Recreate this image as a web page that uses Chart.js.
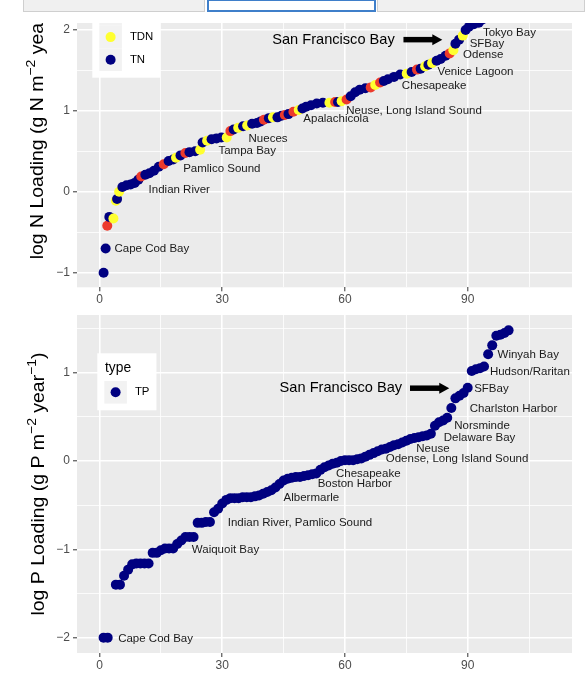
<!DOCTYPE html>
<html lang="en">
<head>
<meta charset="UTF-8">
<title>log N and P Loading</title>
<style>
  html, body { margin: 0; padding: 0; background: #fff; }
  body { width: 587px; height: 680px; position: relative; overflow: hidden; }
  .tab { position: absolute; top: -1px; height: 13px; box-sizing: border-box; }
  #tab1 { left: 23px; width: 182px; background: #f0f0f0; border: 1px solid #cfcfcf; }
  #tab2 { left: 207px; width: 169px; background: #fff; border: 2px solid #3f7fca; }
  #tab3 { left: 377px; width: 208px; background: #f0f0f0; border: 1px solid #cfcfcf; }
  #topWrap { position: absolute; left: 0; top: 23px; width: 587px; height: 287px; overflow: hidden; }
  #nChart { position: absolute; left: 0; top: -57px; }
  #pChart { position: absolute; left: 0; top: 315px; }
</style>
</head>
<body>
<div class="tab" id="tab1"></div>
<div class="tab" id="tab2"></div>
<div class="tab" id="tab3"></div>
<div id="topWrap"><canvas id="nChart" width="587" height="344"></canvas></div>
<canvas id="pChart" width="587" height="365"></canvas>

<script src="https://cdn.jsdelivr.net/npm/chart.js"></script>
<script>
// ---- N loading (rank, log value, type) ----
const nX = [1.0, 1.5, 1.9, 2.4, 3.4, 4.0, 4.3, 4.8, 5.6, 6.6, 7.6, 8.6, 9.5, 10.2, 11.2, 12.2, 13.3, 14.5, 15.7, 16.9,
  18.0, 18.7, 19.8, 21.0, 22.0, 23.4, 24.6, 25.2, 26.3, 27.4, 28.6, 29.8, 31.1, 32.0, 32.8, 33.9, 35.1, 36.1, 37.3, 38.5,
  39.4, 40.2, 41.4, 42.4, 43.5, 44.5, 45.3, 46.2, 47.4, 48.7, 49.6, 50.5, 51.7, 53.1, 54.6, 56.2, 57.6, 58.3, 59.2, 60.4,
  61.4, 62.5, 63.6, 65.0, 66.3, 67.4, 68.6, 69.5, 70.5, 72.0, 73.5, 75.1, 76.3, 77.6, 78.5, 79.6, 80.4, 81.3, 82.4, 83.4,
  84.6, 85.6, 86.5, 87.0, 87.9, 88.8, 89.5, 90.3, 91.5, 92.7, 93.6];
const nY = [-1.00, -0.70, -0.42, -0.31, -0.33, -0.11, -0.09, 0.00, 0.06, 0.08, 0.09, 0.11, 0.15, 0.19, 0.21, 0.23, 0.26, 0.31, 0.34, 0.38,
  0.40, 0.42, 0.45, 0.48, 0.49, 0.50, 0.52, 0.61, 0.63, 0.65, 0.66, 0.67, 0.67, 0.75, 0.77, 0.79, 0.81, 0.82, 0.84, 0.85,
  0.87, 0.89, 0.91, 0.92, 0.92, 0.94, 0.95, 0.96, 0.99, 1.01, 1.03, 1.05, 1.07, 1.09, 1.10, 1.10, 1.11, 1.11, 1.12, 1.14,
  1.18, 1.23, 1.26, 1.28, 1.29, 1.32, 1.35, 1.37, 1.39, 1.42, 1.45, 1.46, 1.48, 1.51, 1.52, 1.55, 1.57, 1.59, 1.62, 1.64,
  1.68, 1.71, 1.75, 1.83, 1.88, 1.93, 2.00, 2.04, 2.07, 2.09, 2.13];
const nType = ['TN', 'TN', 'DIN', 'TN', 'TDN', 'TDN', 'TN', 'TDN', 'TN', 'TN', 'TN', 'TN', 'TN', 'DIN', 'TN', 'TN', 'TN', 'TN', 'DIN', 'TN',
  'TN', 'TDN', 'TN', 'DIN', 'TN', 'TN', 'TDN', 'TN', 'TDN', 'TN', 'TN', 'TN', 'TDN', 'DIN', 'TN', 'TDN', 'TN', 'TDN', 'TN', 'TN',
  'TN', 'DIN', 'TN', 'TDN', 'TN', 'TN', 'DIN', 'TN', 'DIN', 'TDN', 'TN', 'TN', 'TN', 'TN', 'TN', 'TDN', 'DIN', 'TN', 'TDN', 'DIN',
  'TN', 'TN', 'TN', 'TN', 'DIN', 'TDN', 'DIN', 'TN', 'TN', 'TN', 'TN', 'TDN', 'TN', 'DIN', 'TN', 'TDN', 'TN', 'TDN', 'TN', 'TN',
  'TN', 'DIN', 'TDN', 'TN', 'TN', 'TDN', 'TN', 'TN', 'TN', 'TN', 'TN'];

// ---- P loading ----
const pX = [1, 2, 4, 5, 6, 7, 8, 9, 10, 11, 12, 13, 14, 15, 16, 17, 18, 19, 20, 21, 22, 23, 24, 25, 26, 27, 28, 29, 30,
  31, 32, 33, 34, 35, 36, 37, 38, 39, 40, 41, 42, 43, 44, 45, 46, 47, 48, 49, 50, 51, 52, 53, 54, 55, 56, 57, 58, 59, 60,
  61, 62, 63, 64, 65, 66, 67, 68, 69, 70, 71, 72, 73, 74, 75, 76, 77, 78, 79, 80, 81, 82, 83, 84, 85, 86, 87, 88, 89, 90,
  91, 92, 93, 94, 95, 96, 97, 98, 99, 100];
const pY = [-2.00, -2.00, -1.40, -1.40, -1.30, -1.23, -1.17, -1.16, -1.16, -1.16, -1.16, -1.04, -1.04, -1.01, -0.99, -0.99, -0.99, -0.94, -0.90, -0.86, -0.86, -0.86, -0.70, -0.70, -0.69, -0.69, -0.58, -0.54, -0.48,
  -0.44, -0.42, -0.42, -0.42, -0.41, -0.41, -0.41, -0.40, -0.39, -0.37, -0.35, -0.33, -0.30, -0.26, -0.22, -0.20, -0.19, -0.18, -0.18, -0.17, -0.16, -0.15, -0.14, -0.10, -0.07, -0.05, -0.03, -0.02, 0.00, 0.01,
  0.01, 0.01, 0.02, 0.03, 0.05, 0.07, 0.09, 0.11, 0.13, 0.14, 0.16, 0.18, 0.19, 0.21, 0.23, 0.25, 0.26, 0.27, 0.28, 0.29, 0.31, 0.40, 0.44, 0.46, 0.49, 0.60, 0.71, 0.74, 0.77, 0.83,
  1.02, 1.04, 1.05, 1.07, 1.21, 1.31, 1.42, 1.43, 1.45, 1.48];

// ---- axes ----
const xMajor = [0, 30, 60, 90];
const xMinor = [15, 45, 75, 105];
const nMajor = [-1, 0, 1, 2];
const nMinor = [-0.5, 0.5, 1.5, 2.5];
const pMajor = [-2, -1, 0, 1];
const pMinor = [-1.5, -0.5, 0.5, 1.5];

// ---- site labels (centre of text, data units) ----
const nNames = ['Cape Cod Bay', 'Indian River', 'Pamlico Sound', 'Tampa Bay', 'Nueces', 'Apalachicola',
  'Neuse, Long Island Sound', 'Chesapeake', 'Venice Lagoon', 'Odense', 'SFBay', 'Tokyo Bay'];
const nNameX = [12.8, 19.5, 29.9, 36.1, 41.2, 57.8, 76.9, 81.8, 91.9, 93.8, 94.7, 100.2];
const nNameY = [-0.70, 0.03, 0.28, 0.51, 0.66, 0.90, 1.00, 1.31, 1.48, 1.69, 1.83, 1.96];

const pNames = ['Cape Cod Bay', 'Waiquoit Bay', 'Indian River, Pamlico Sound', 'Albermarle', 'Boston Harbor', 'Chesapeake',
  'Odense, Long Island Sound', 'Neuse', 'Delaware Bay', 'Norsminde', 'Charlston Harbor', 'SFBay', 'Hudson/Raritan', 'Winyah Bay'];
const pNameX = [13.7, 30.8, 49.0, 51.8, 62.4, 65.7, 87.4, 81.5, 92.9, 93.5, 101.2, 95.8, 105.2, 104.8];
const pNameY = [-2.01, -1.00, -0.70, -0.42, -0.255, -0.147, 0.03, 0.14, 0.26, 0.40, 0.59, 0.82, 1.01, 1.20];

const typeColor = { DIN: '#EC3A2C', TDN: '#FFFF30', TN: '#000080', TP: '#000080' };
const FONT = '"Liberation Sans", Arial, Helvetica, sans-serif';

Chart.defaults.font.family = FONT;

const near = (list, v) => list.some(m => Math.abs(m - v) < 1e-9);
const fmt = v => (v < 0 ? '\u2212' + Math.abs(v) : String(v));

function makeScale(min, max, major, minor, pos, size, pad) {
  const all = major.concat(minor).sort((a, b) => a - b);
  return {
    type: 'linear', position: pos, min: min, max: max,
    afterBuildTicks: s => { s.ticks = all.map(v => ({ value: v })); },
    afterFit: s => {
      // exact panel size, no label overhang padding
      if (pos === 'left') { s.width = size; s.paddingTop = 0; s.paddingBottom = 0; }
      else { s.height = size; s.paddingLeft = 0; s.paddingRight = 0; }
    },
    grid: {
      color: '#FFFFFF',
      lineWidth: c => (c.tick && near(major, c.tick.value)) ? 1.6 : 0.8,
      tickColor: c => (c.tick && near(major, c.tick.value)) ? '#333333' : 'rgba(0,0,0,0)',
      tickLength: 4, tickWidth: 1
    },
    border: { display: false },
    ticks: {
      autoSkip: false, maxRotation: 0, padding: pad,
      color: '#4D4D4D', font: { size: 12 },
      callback: v => near(major, v) ? fmt(v) : ''
    }
  };
}

// grey panel behind the grid
const panelBg = {
  id: 'panelBg',
  beforeDraw(chart) {
    const { ctx, chartArea: a } = chart;
    ctx.save();
    ctx.fillStyle = '#EBEBEB';
    ctx.fillRect(a.left, a.top, a.right - a.left, a.bottom - a.top);
    ctx.restore();
  }
};

// labels, big label and arrow
const ggNotes = {
  id: 'ggNotes',
  afterDatasetsDraw(chart, args, o) {
    const { ctx, scales: { x, y } } = chart;
    ctx.save();
    ctx.textAlign = 'center';
    ctx.textBaseline = 'middle';
    ctx.fillStyle = '#1a1a1a';
    ctx.font = '11.5px ' + FONT;
    o.names.forEach((t, i) => ctx.fillText(t, x.getPixelForValue(o.xs[i]), y.getPixelForValue(o.ys[i])));

    ctx.fillStyle = '#000';
    ctx.font = '14.6px ' + FONT;
    ctx.fillText(o.big, x.getPixelForValue(o.bigX), y.getPixelForValue(o.bigY));

    const x1 = x.getPixelForValue(o.arrow[0]);
    const x2 = x.getPixelForValue(o.arrow[1]);
    const ay = y.getPixelForValue(o.arrow[2]);
    ctx.strokeStyle = '#000';
    ctx.lineWidth = 5.5;
    ctx.beginPath();
    ctx.moveTo(x1, ay);
    ctx.lineTo(x2 - 8, ay);
    ctx.stroke();
    ctx.beginPath();
    ctx.moveTo(x2, ay);
    ctx.lineTo(x2 - 10, ay - 5.5);
    ctx.lineTo(x2 - 10, ay + 5.5);
    ctx.closePath();
    ctx.fill();
    ctx.restore();
  }
};

// ggplot style legend inside the panel
const ggLegend = {
  id: 'ggLegend',
  afterDraw(chart, args, o) {
    const { ctx, chartArea: a } = chart;
    const left = a.left + o.dx, top = a.top + o.dy;
    const key = 22.6, pad = 7;
    ctx.save();
    ctx.font = '11.4px ' + FONT;
    const labW = Math.max(...o.items.map(it => ctx.measureText(it).width));
    const w = pad + key + 8 + labW + pad;
    const h = 27.7 + key * o.items.length + 6.7;
    ctx.fillStyle = '#fff';
    ctx.fillRect(left, top, w, h);
    ctx.textBaseline = 'middle';
    ctx.fillStyle = '#000';
    ctx.font = '13.8px ' + FONT;
    ctx.fillText(o.title, left + 7.7, top + 15);
    o.items.forEach((it, i) => {
      const ky = top + 27.7 + i * key;
      ctx.fillStyle = '#F2F2F2';
      ctx.fillRect(left + pad, ky, key, key);
      ctx.fillStyle = typeColor[it];
      ctx.beginPath();
      ctx.arc(left + pad + key / 2, ky + key / 2, 5, 0, Math.PI * 2);
      ctx.fill();
      ctx.fillStyle = '#000';
      ctx.font = '11.4px ' + FONT;
      ctx.fillText(it, left + pad + key + 8, ky + key / 2);
    });
    ctx.restore();
  }
};

// rotated y title with superscripts
const yTitle = {
  id: 'yTitle',
  afterDraw(chart, args, o) {
    const { ctx, chartArea: a } = chart;
    const size = o.size, sup = size * 0.72;
    ctx.save();
    ctx.translate(o.x, (a.top + a.bottom) / 2);
    ctx.rotate(-Math.PI / 2);
    ctx.scale(o.stretch, 1);
    let total = 0;
    const widths = o.parts.map(p => {
      ctx.font = (p.sup ? sup : size) + 'px ' + FONT;
      const wd = ctx.measureText(p.t).width;
      total += wd;
      return wd;
    });
    let cx = -total / 2;
    ctx.fillStyle = '#000';
    ctx.textBaseline = 'alphabetic';
    o.parts.forEach((p, i) => {
      ctx.font = (p.sup ? sup : size) + 'px ' + FONT;
      ctx.fillText(p.t, cx, p.sup ? -size * 0.42 : 0);
      cx += widths[i];
    });
    ctx.restore();
  }
};

function baseOptions(yMin, yMax, yMajor, yMinor, xAxisH, xPad, extra) {
  return {
    responsive: false,
    animation: false,
    events: [],
    layout: { autoPadding: false, padding: { left: 0, right: 15, top: 0, bottom: 0 } },
    scales: {
      x: makeScale(-5.5, 115.5, xMajor, xMinor, 'bottom', xAxisH, xPad),
      y: makeScale(yMin, yMax, yMajor, yMinor, 'left', 77, 3)
    },
    plugins: Object.assign({ legend: { display: false }, tooltip: { enabled: false } }, extra)
  };
}

new Chart(document.getElementById('nChart'), {
  type: 'scatter',
  data: {
    datasets: [{
      data: nX.map((x, i) => ({ x: x, y: nY[i] })),
      pointBackgroundColor: nType.map(t => typeColor[t]),
      pointBorderWidth: 0,
      pointRadius: 5,
      pointHoverRadius: 5
    }]
  },
  options: baseOptions(-1.18, 2.79, nMajor, nMinor, 22.7, 1, {
    ggNotes: { names: nNames, xs: nNameX, ys: nNameY, big: 'San Francisco Bay', bigX: 57.2, bigY: 1.88, arrow: [74.3, 83.8, 1.88] },
    ggLegend: { dx: 15.3, dy: 9.5, title: 'type', items: ['DIN', 'TDN', 'TN'] },
    yTitle: { x: 42.5, size: 18, stretch: 1.08,
      parts: [{ t: 'log N Loading (g N m' }, { t: '\u22122', sup: true }, { t: ' year' }, { t: '\u22121', sup: true }, { t: ')' }] }
  }),
  plugins: [panelBg, ggNotes, ggLegend, yTitle]
});

new Chart(document.getElementById('pChart'), {
  type: 'scatter',
  data: {
    datasets: [{
      data: pX.map((x, i) => ({ x: x, y: pY[i] })),
      pointBackgroundColor: typeColor.TP,
      pointBorderWidth: 0,
      pointRadius: 5,
      pointHoverRadius: 5
    }]
  },
  options: baseOptions(-2.174, 1.654, pMajor, pMinor, 27, 1, {
    ggNotes: { names: pNames, xs: pNameX, ys: pNameY, big: 'San Francisco Bay', bigX: 59.0, bigY: 0.83, arrow: [75.9, 85.5, 0.825] },
    ggLegend: { dx: 20.3, dy: 38.3, title: 'type', items: ['TP'] },
    yTitle: { x: 44, size: 18, stretch: 1.08,
      parts: [{ t: 'log P Loading (g P m' }, { t: '\u22122', sup: true }, { t: ' year' }, { t: '\u22121', sup: true }, { t: ')' }] }
  }),
  plugins: [panelBg, ggNotes, ggLegend, yTitle]
});
</script>
</body>
</html>
